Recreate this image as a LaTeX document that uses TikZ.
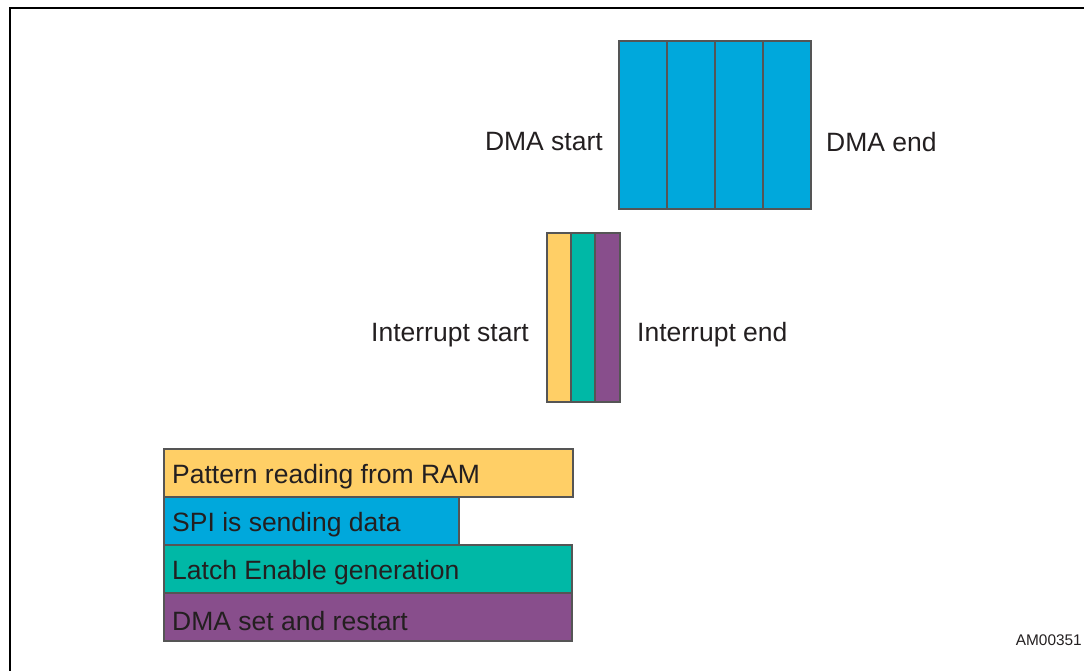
\documentclass[tikz,border=0pt]{standalone}
\usepackage{fontspec}
\setmainfont{Liberation Sans}
\definecolor{cyel}{HTML}{FFCF66}
\definecolor{cblu}{HTML}{00A8DC}
\definecolor{cteal}{HTML}{00B8A6}
\definecolor{cpur}{HTML}{884E8C}
\definecolor{cedge}{HTML}{555555}
\definecolor{ctext}{HTML}{231F20}
\begin{document}
\begin{tikzpicture}[x=1pt,y=-1pt,
  cell/.style={draw=cedge, line width=2.2pt, inner sep=0pt, anchor=north west},
  lbl/.style={text=ctext, font=\fontsize{26.5}{30}\selectfont, inner sep=0pt},
  note/.style={text=ctext, font=\fontsize{15.4}{18}\selectfont, inner sep=0pt}]
\useasboundingbox (0,0) rectangle (1084,670);
% frame
\coordinate (fbl) at (10,672);
\coordinate (ftl) at (10,8);
\coordinate (ftr) at (1086,8);
\draw[line width=2.5pt, black] (fbl) -- (ftl) -- (ftr);
% DMA cells
\node[cell, fill=cblu, minimum width=48pt, minimum height=168pt] (d1) at (618,40) {};
\node[cell, fill=cblu, minimum width=48pt, minimum height=168pt] (d2) at (666,40) {};
\node[cell, fill=cblu, minimum width=48pt, minimum height=168pt] (d3) at (714,40) {};
\node[cell, fill=cblu, minimum width=48pt, minimum height=168pt] (d4) at (762,40) {};
\node[lbl, anchor=east] (dmas) at (603,142) {DMA start};
\node[lbl, anchor=west] (dmae) at (826,142) {DMA end};
% interrupt
\node[cell, fill=cyel, minimum width=24pt, minimum height=169pt] (i1) at (546,232) {};
\node[cell, fill=cteal, minimum width=24pt, minimum height=169pt] (i2) at (570,232) {};
\node[cell, fill=cpur, minimum width=25pt, minimum height=169pt] (i3) at (594,232) {};
\node[lbl, anchor=east] (ints) at (529,335) {Interrupt start};
\node[lbl, anchor=west] (inte) at (637,335) {Interrupt end};
% legend
\node[cell, fill=cyel, minimum width=409pt, minimum height=48pt] (l1) at (163,448) {};
\node[cell, fill=cblu, minimum width=295pt, minimum height=48pt] (l2) at (163,496) {};
\node[cell, fill=cteal, minimum width=408pt, minimum height=48pt] (l3) at (163,544) {};
\node[cell, fill=cpur, minimum width=408pt, minimum height=48pt] (l4) at (163,592) {};
\node[lbl, anchor=west] (t1) at ([xshift=9pt,yshift=-4pt]l1.west) {Pattern reading from RAM};
\node[lbl, anchor=west] (t2) at ([xshift=9pt,yshift=-4pt]l2.west) {SPI is sending data};
\node[lbl, anchor=west] (t3) at ([xshift=9pt,yshift=-4pt]l3.west) {Latch Enable generation};
\node[lbl, anchor=west] (t4) at ([xshift=9pt,yshift=-4pt]l4.west) {DMA set and restart};
\node[note, anchor=east] (am) at (1082,640) {AM00351};
\end{tikzpicture}
\end{document}
